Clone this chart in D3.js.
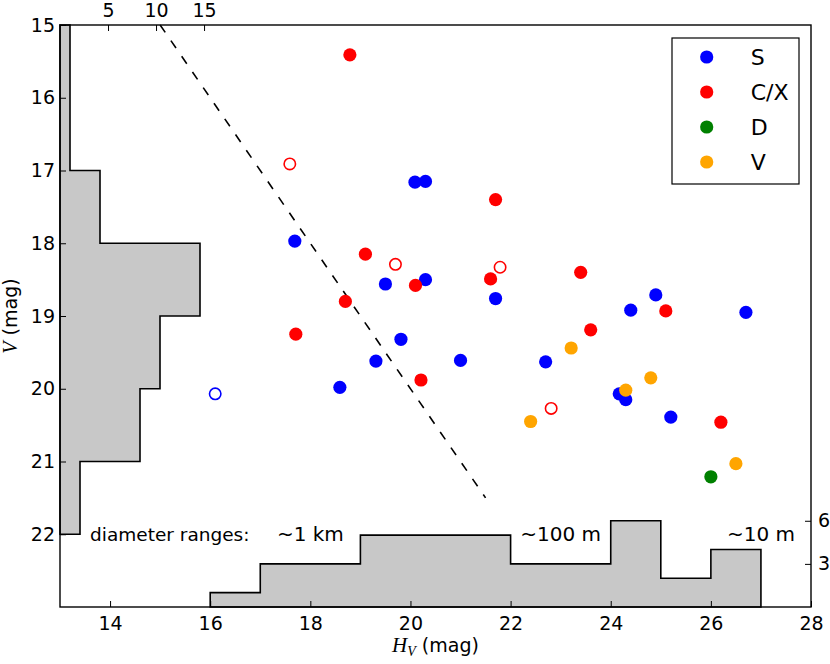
<!DOCTYPE html>
<html>
<head>
<meta charset="utf-8">
<script src="https://cdn.jsdelivr.net/npm/d3@7"></script>
<style>
  body { margin: 0; background: #fff; }
  svg text { font-family: "DejaVu Sans", sans-serif; font-size: 18.5px; fill: #000; }
  .math { font-family: "Liberation Serif", serif; font-style: italic; }
</style>
</head>
<body>
<svg width="830" height="664"></svg>
<script>
// absolute magnitude H_V, apparent magnitude V, taxonomic class, open marker
const hMag = [17.69, 20.09, 20.30, 19.50, 20.30, 21.70, 19.81, 19.31, 18.59, 21.00,
              22.70, 24.40, 24.90, 26.70, 24.17, 24.30, 25.20, 16.10,
              18.79, 21.70, 19.10, 20.10, 21.60, 18.70, 17.71, 23.40, 23.60, 25.10,
              20.21, 26.20, 17.59, 19.70, 21.79, 22.81,
              26.00,
              23.21, 24.30, 24.80, 22.40, 26.50];
const vMag = [17.97, 17.16, 17.15, 18.56, 18.50, 18.76, 19.32, 19.62, 19.98, 19.61,
              19.63, 18.92, 18.71, 18.95, 20.07, 20.15, 20.39, 20.07,
              15.41, 17.40, 18.15, 18.58, 18.49, 18.80, 19.25, 18.40, 19.19, 18.93,
              19.88, 20.46, 16.91, 18.29, 18.33, 20.27,
              21.21,
              19.44, 20.02, 19.85, 20.45, 21.03];
const taxon = ["S", "S", "S", "S", "S", "S", "S", "S", "S", "S",
               "S", "S", "S", "S", "S", "S", "S", "S",
               "C/X", "C/X", "C/X", "C/X", "C/X", "C/X", "C/X", "C/X", "C/X", "C/X",
               "C/X", "C/X", "C/X", "C/X", "C/X", "C/X",
               "D",
               "V", "V", "V", "V", "V"];
const hollow = [0, 0, 0, 0, 0, 0, 0, 0, 0, 0,
                0, 0, 0, 0, 0, 0, 0, 1,
                0, 0, 0, 0, 0, 0, 0, 0, 0, 0,
                0, 0, 1, 1, 1, 1,
                0,
                0, 0, 0, 0, 0];

const classes = ["S", "C/X", "D", "V"];
const classColors = ["#0000ff", "#ff0000", "#008000", "#ffa500"];

const xTicks = [14, 16, 18, 20, 22, 24, 26, 28];
const yTicks = [15, 16, 17, 18, 19, 20, 21, 22];
const topCountTicks = [5, 10, 15];
const rightCountTicks = [3, 6];
const vBinEdges = [15, 16, 17, 18, 19, 20, 21, 22];
const hBinEdges = [16, 17, 18, 19, 20, 21, 22, 23, 24, 25, 26, 27];

// reference line V = H_V
const refLineH = [15, 21.5];

// diameter annotations, centred on H_V
const sizeTitle = "diameter ranges:";
const sizeTitleH = 13.6;
const sizeLabels = ["~1 km", "~100 m", "~10 m"];
const sizeLabelH = [18, 23, 27];
const sizeLabelV = 22;

const data = hMag.map((h, i) => ({ h: h, v: vMag[i], cls: taxon[i], open: hollow[i] === 1 }));

const margin = { left: 60, right: 811, top: 25, bottom: 607 };

const svg = d3.select("svg");
const color = d3.scaleOrdinal().domain(classes).range(classColors);

const x = d3.scaleLinear().domain([13, 28]).range([margin.left, margin.right]);
const y = d3.scaleLinear().domain([15, 23]).range([margin.top, margin.bottom]);
// histogram count scales
const xCount = d3.scaleLinear().domain([0, 75.1]).range([margin.left, margin.right]);
const xCountAxis = d3.scaleLinear().domain([0, 78.2]).range([margin.left, margin.right]);
const yCount = d3.scaleLinear().domain([0, 40.5]).range([margin.bottom, margin.top]);

// histograms
const vBins = d3.bin().domain([15, 22]).thresholds(vBinEdges.slice(1, -1))(data.map(d => d.v));
const hBins = d3.bin().domain([16, 27]).thresholds(hBinEdges.slice(1, -1))(data.map(d => d.h));

const line = d3.line();

const vPts = [[xCount(0), y(vBinEdges[0])]];
vBins.forEach(b => {
    vPts.push([xCount(b.length), y(b.x0)]);
    vPts.push([xCount(b.length), y(b.x1)]);
});
vPts.push([xCount(0), y(vBinEdges[vBinEdges.length - 1])]);

const hPts = [[x(hBinEdges[0]), yCount(0)]];
hBins.forEach(b => {
    hPts.push([x(b.x0), yCount(b.length)]);
    hPts.push([x(b.x1), yCount(b.length)]);
});
hPts.push([x(hBinEdges[hBinEdges.length - 1]), yCount(0)]);

[vPts, hPts].forEach(pts => {
    svg.append("path")
        .attr("d", line(pts) + "Z")
        .attr("fill", "#c8c8c8")
        .attr("stroke", "#000")
        .attr("stroke-width", 1.6)
        .attr("stroke-linejoin", "miter");
});

// dashed reference line
svg.append("path")
    .attr("d", line(refLineH.map(h => [x(h), y(h)])))
    .attr("stroke", "#000")
    .attr("stroke-width", 1.6)
    .attr("stroke-dasharray", "9,10")
    .attr("fill", "none");

// size labels
svg.append("text")
    .attr("x", x(sizeTitleH))
    .attr("y", y(sizeLabelV))
    .attr("dy", "0.35em")
    .text(sizeTitle);

sizeLabels.forEach((t, i) => {
    svg.append("text")
        .attr("x", x(sizeLabelH[i]))
        .attr("y", y(sizeLabelV))
        .attr("dy", "0.35em")
        .attr("text-anchor", "middle")
        .style("font-size", "20px")
        .text(t);
});

// points
svg.append("g")
    .selectAll("circle")
    .data(data)
    .enter()
    .append("circle")
    .attr("cx", d => x(d.h))
    .attr("cy", d => y(d.v))
    .attr("r", d => d.open ? 5.7 : 6.6)
    .attr("fill", d => d.open ? "none" : color(d.cls))
    .attr("stroke", d => d.open ? color(d.cls) : "none")
    .attr("stroke-width", 1.6);

// frame
svg.append("rect")
    .attr("x", margin.left)
    .attr("y", margin.top)
    .attr("width", margin.right - margin.left)
    .attr("height", margin.bottom - margin.top)
    .attr("fill", "none")
    .attr("stroke", "#000")
    .attr("stroke-width", 1.4);

// axes (ticks pointing inwards)
function styleAxis(g) {
    g.select(".domain").remove();
    g.selectAll(".tick line").attr("stroke", "#000").attr("stroke-width", 1);
    g.selectAll(".tick text").attr("fill", "#000").style("font-size", "19px")
        .style("font-family", "DejaVu Sans");
}

svg.append("g")
    .attr("transform", `translate(${margin.left},0)`)
    .call(d3.axisLeft(y).tickValues(yTicks).tickFormat(d3.format("d")).tickSize(-6).tickPadding(5))
    .call(styleAxis);

svg.append("g")
    .attr("transform", `translate(0,${margin.bottom})`)
    .call(d3.axisBottom(x).tickValues(xTicks).tickFormat(d3.format("d")).tickSize(-6).tickPadding(9.5))
    .call(styleAxis);

svg.append("g")
    .attr("transform", `translate(0,${margin.top})`)
    .call(d3.axisTop(xCountAxis).tickValues(topCountTicks).tickFormat(d3.format("d")).tickSize(-6).tickPadding(8))
    .call(styleAxis);

svg.append("g")
    .attr("transform", `translate(${margin.right},0)`)
    .call(d3.axisRight(yCount).tickValues(rightCountTicks).tickFormat(d3.format("d")).tickSize(-6).tickPadding(7))
    .call(styleAxis);

// axis labels
const xLabel = svg.append("text")
    .attr("x", (margin.left + margin.right) / 2)
    .attr("y", 652)
    .attr("text-anchor", "middle");
xLabel.append("tspan").attr("class", "math").style("font-size", "21px").text("H");
xLabel.append("tspan").attr("class", "math").style("font-size", "14px").attr("dy", 4).text("V");
xLabel.append("tspan").attr("dy", -4).style("font-size", "19px").text(" (mag)");

const yLabel = svg.append("text")
    .attr("transform", `translate(17,${(margin.top + margin.bottom) / 2}) rotate(-90)`)
    .attr("text-anchor", "middle");
yLabel.append("tspan").attr("class", "math").style("font-size", "20px").text("V");
yLabel.append("tspan").style("font-size", "19px").text(" (mag)");

// legend
const legend = svg.append("g");
legend.append("rect")
    .attr("x", 672).attr("y", 38)
    .attr("width", 127).attr("height", 146)
    .attr("fill", "#fff")
    .attr("stroke", "#000")
    .attr("stroke-width", 1.2);

const legendRow = d3.scaleLinear().domain([0, 1]).range([57, 92]);
classes.forEach((c, i) => {
    legend.append("circle")
        .attr("cx", 706.7)
        .attr("cy", legendRow(i))
        .attr("r", 6.6)
        .attr("fill", color(c));
    legend.append("text")
        .attr("x", 750.7)
        .attr("y", legendRow(i))
        .attr("dy", "0.36em")
        .style("font-size", "22px")
        .text(c);
});
</script>
</body>
</html>
